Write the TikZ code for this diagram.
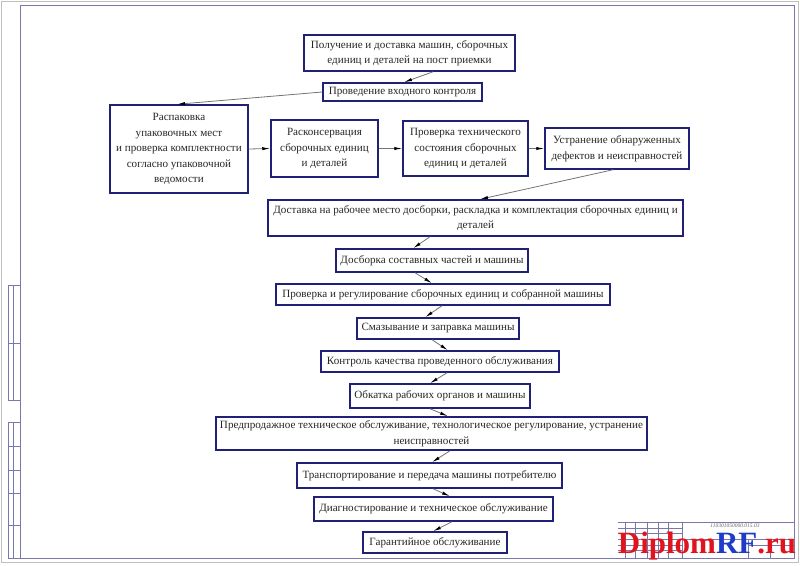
\documentclass[tikz,border=0pt]{standalone}
\usepackage{fontspec}
\setmainfont{Liberation Serif}
\usetikzlibrary{arrows.meta}
\definecolor{navy}{RGB}{32,32,118}
\definecolor{frameblue}{RGB}{120,120,170}
\definecolor{wmred}{RGB}{225,20,30}
\definecolor{wmblue}{RGB}{30,60,200}
\begin{document}
\begin{tikzpicture}[x=1pt,y=-1pt,
  box/.style={draw=navy, line width=1.5pt, inner sep=0pt, align=center,
    font=\fontsize{11.1}{15.5}\selectfont, text=black!85},
  arr/.style={draw=black!55, line width=0.8pt, -{Latex[length=8pt,width=3.2pt,color=black]}},
  thin/.style={draw=frameblue, line width=0.5pt}]
\useasboundingbox (0,0) rectangle (800,565);
% sheet
\draw[black!25, line width=1pt] (1,1.5) rectangle (798.5,562);
\draw[thin, line width=0.7pt] (20,5) rectangle (794,558);
% left strip
\draw[thin] (8,285) rectangle (20,400);
\draw[thin] (13,285) -- (13,400);
\draw[thin] (8,343) -- (20,343);
\draw[thin] (8,422) rectangle (20,558);
\draw[thin] (13,422) -- (13,558);
\foreach \yy in {446,470,493,525} \draw[thin] (8,\yy) -- (20,\yy);
% title block
\draw[thin] (618,522) -- (794,522);
\draw[thin] (682,539) -- (794,539);
\foreach \yy in {528,533,539,545,550} \draw[thin] (618,\yy) -- (682,\yy);
\foreach \xx in {625,635,647,658,668,682} \draw[thin] (\xx,522) -- (\xx,558);
\draw[thin] (748,539) -- (748,558);
\draw[thin] (770,545) -- (770,558);
\draw[thin] (748,545) -- (794,545);
\node[font=\fontsize{5.5}{6}\selectfont\itshape, text=black!60, inner sep=0pt] (code) at (735,526) {110301050000.015.03};
% watermark
\node[font=\fontsize{31}{34}\selectfont\bfseries, inner sep=0pt, anchor=center] (wm) at (707,546)
  {\textcolor{wmred}{Diplom}\textcolor{wmblue}{RF}\textcolor{wmred}{.ru}};
% boxes
\node[box, minimum width=211, minimum height=36] (n1) at (409.5,53) {Получение и доставка машин, сборочных\\единиц и деталей на пост приемки};
\node[box, minimum width=159, minimum height=18] (n2) at (402.5,92) {Проведение входного контроля};
\node[box, minimum width=138, minimum height=88] (n3) at (179,149) {Распаковка\\упаковочных мест\\и проверка комплектности\\согласно упаковочной\\ведомости};
\node[box, minimum width=107, minimum height=57] (n4) at (324.5,148.5) {Расконсервация\\сборочных единиц\\и деталей};
\node[box, minimum width=125, minimum height=55] (n5) at (465.5,148.5) {Проверка технического\\состояния сборочных\\единиц и деталей};
\node[box, minimum width=144, minimum height=41] (n6) at (617,148.5) {Устранение обнаруженных\\дефектов и неисправностей};
\node[box, minimum width=415, minimum height=36] (n7) at (475.5,218) {Доставка на рабочее место досборки, раскладка и комплектация сборочных единиц и\\деталей};
\node[box, minimum width=192, minimum height=23] (n8) at (432,260.5) {Досборка составных частей и машины};
\node[box, minimum width=334, minimum height=21] (n9) at (443,294.5) {Проверка и регулирование сборочных единиц и собранной машины};
\node[box, minimum width=162, minimum height=21] (n10) at (438,328.5) {Смазывание и заправка машины};
\node[box, minimum width=238, minimum height=21] (n11) at (440,361.5) {Контроль качества проведенного обслуживания};
\node[box, minimum width=180, minimum height=24] (n12) at (440,396) {Обкатка рабочих органов и машины};
\node[box, minimum width=431, minimum height=33] (n13) at (431.5,433.5) {Предпродажное техническое обслуживание, технологическое регулирование, устранение\\неисправностей};
\node[box, minimum width=265, minimum height=25] (n14) at (429.5,475.5) {Транспортирование и передача машины потребителю};
\node[box, minimum width=239, minimum height=24] (n15) at (433.5,509) {Диагностирование и техническое обслуживание};
\node[box, minimum width=144, minimum height=21] (n16) at (435,542.5) {Гарантийное обслуживание};
% arrows
\draw[arr] ([xshift=23.5pt]n1.south) -- ([xshift=1.5pt]n2.north);
\draw[arr] (n2.west) -- ([xshift=-2pt]n3.north);
\draw[arr] (n3.east) -- (n4.west);
\draw[arr] (n4.east) -- (n5.west);
\draw[arr] (n5.east) -- (n6.west);
\draw[arr] ([xshift=-4pt]n6.south) -- ([xshift=4.5pt]n7.north);
\draw[arr] ([xshift=-45.5pt]n7.south) -- ([xshift=-19pt]n8.north);
\draw[arr] ([xshift=-17pt]n8.south) -- ([xshift=-11pt]n9.north);
\draw[arr] ([xshift=-1pt]n9.south) -- ([xshift=-13pt]n10.north);
\draw[arr] ([xshift=-6pt]n10.south) -- ([xshift=8pt]n11.north);
\draw[arr] ([xshift=7pt]n11.south) -- ([xshift=-10pt]n12.north);
\draw[arr] ([xshift=-10pt]n12.south) -- ([xshift=16.5pt]n13.north);
\draw[arr] ([xshift=18.5pt]n13.south) -- ([xshift=2.5pt]n14.north);
\draw[arr] ([xshift=3.5pt]n14.south) -- ([xshift=16.5pt]n15.north);
\draw[arr] ([xshift=18.5pt]n15.south) -- ([xshift=-2pt]n16.north);
\end{tikzpicture}
\end{document}
